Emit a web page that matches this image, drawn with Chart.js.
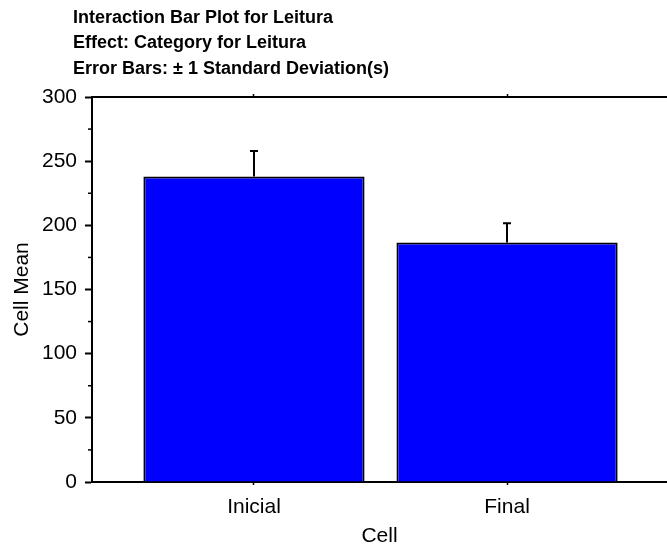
<!DOCTYPE html>
<html>
<head>
<meta charset="utf-8">
<script src="https://cdn.jsdelivr.net/npm/chart.js@4"></script>
<style>
    body { margin: 0; background: #fff; }
</style>
</head>
<body>
<canvas id="chart" width="667" height="547"></canvas>
<script>
const categories = ['Inicial', 'Final'];
const cellMeans = [238, 186.7];
const stdDevs = [20, 15];
const yTicks = [0, 50, 100, 150, 200, 250, 300];
const titleLines = [
    'Interaction Bar Plot for Leitura',
    'Effect: Category for Leitura',
    'Error Bars: \u00b1 1 Standard Deviation(s)'
];

const FONT = '"Liberation Sans", Arial, sans-serif';
const catTicks = s => { s.ticks = categories.map((c, i) => ({value: i + 1})); };

// error bars, minor y ticks and the three-line header
const extras = {
    id: 'extras',
    afterDatasetsDraw(chart) {
        const ctx = chart.ctx;
        const x = chart.scales.x;
        const y = chart.scales.y;
        ctx.save();
        ctx.strokeStyle = '#000';
        ctx.lineWidth = 2;
        cellMeans.forEach((m, i) => {
            const px = Math.round(x.getPixelForValue(i + 1));
            const top = y.getPixelForValue(m + stdDevs[i]);
            const base = y.getPixelForValue(m);
            ctx.beginPath();
            ctx.moveTo(px, base);
            ctx.lineTo(px, top);
            ctx.moveTo(px - 4, top);
            ctx.lineTo(px + 4, top);
            ctx.stroke();
        });
        ctx.lineWidth = 1.5;
        for (let i = 0; i < yTicks.length - 1; i++) {
            const py = y.getPixelForValue((yTicks[i] + yTicks[i + 1]) / 2);
            ctx.beginPath();
            ctx.moveTo(y.right - 4, py);
            ctx.lineTo(y.right, py);
            ctx.stroke();
        }
        ctx.fillStyle = '#000';
        ctx.font = 'bold 18px ' + FONT;
        ctx.textBaseline = 'middle';
        titleLines.forEach((t, i) => ctx.fillText(t, 73, 18 + i * 25.5));
        ctx.restore();
    }
};

new Chart(document.getElementById('chart'), {
    type: 'bar',
    data: {
        datasets: [{
            data: categories.map((c, i) => ({x: i + 1, y: cellMeans[i]})),
            backgroundColor: '#0000ff',
            borderColor: '#000',
            borderWidth: {top: 2, left: 2, right: 2, bottom: 0},
            barPercentage: 0.874,
            categoryPercentage: 1,
            xAxisID: 'x',
            yAxisID: 'y'
        }]
    },
    options: {
        responsive: false,
        animation: false,
        devicePixelRatio: 1,
        layout: {padding: {top: 97, left: 0, right: 0, bottom: 0}},
        plugins: {legend: {display: false}, tooltip: {enabled: false}},
        scales: {
            x: {
                type: 'linear',
                position: 'bottom',
                offset: false,
                min: 0.36,
                max: 2.632,
                afterBuildTicks: catTicks,
                afterFit: s => { s.height = 65; },
                ticks: {
                    callback: (v, i) => categories[i],
                    font: {size: 21, family: FONT},
                    color: '#000',
                    padding: 10,
                    maxRotation: 0
                },
                grid: {offset: false, drawOnChartArea: false, tickLength: 3, tickWidth: 1.5, tickColor: '#000'},
                border: {color: '#000', width: 2},
                title: {
                    display: true,
                    text: 'Cell',
                    font: {size: 21, family: FONT, lineHeight: 1.05},
                    color: '#000',
                    padding: 0
                }
            },
            x2: {
                type: 'linear',
                position: 'top',
                offset: false,
                min: 0.36,
                max: 2.632,
                afterBuildTicks: catTicks,
                afterFit: s => { s.height = 0; },
                ticks: {display: false},
                grid: {offset: false, drawOnChartArea: false, tickLength: 3, tickWidth: 1.5, tickColor: '#000'},
                border: {color: '#000', width: 2}
            },
            y: {
                min: 0,
                max: 300,
                afterBuildTicks: s => { s.ticks = yTicks.map(v => ({value: v})); },
                afterFit: s => { s.width = 92; },
                ticks: {font: {size: 21, family: FONT}, color: '#000', padding: 8},
                grid: {drawOnChartArea: false, tickLength: 7, tickWidth: 2, tickColor: '#000'},
                border: {color: '#000', width: 2},
                title: {
                    display: true,
                    text: 'Cell Mean',
                    font: {size: 21, family: FONT},
                    color: '#000',
                    padding: {top: 9.5, bottom: 0}
                }
            }
        }
    },
    plugins: [extras]
});
</script>
</body>
</html>
